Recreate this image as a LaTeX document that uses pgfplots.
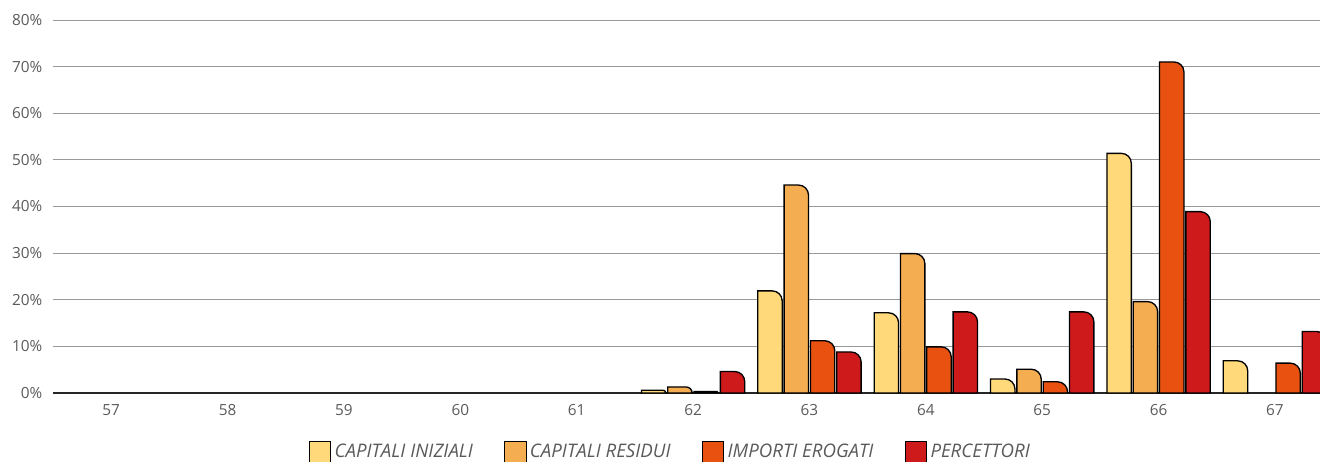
\documentclass[border=0pt]{standalone}
\usepackage{fontspec}
\setmainfont{Open Sans}
\newfontfamily\legfont{Open Sans}
\usepackage{pgfplots}
\pgfplotsset{compat=1.18}

\definecolor{ciCol}{HTML}{FFD97A}
\definecolor{crCol}{HTML}{F5AD52}
\definecolor{ieCol}{HTML}{E85110}
\definecolor{peCol}{HTML}{CF1A1C}
\definecolor{tickgray}{HTML}{5A5A5A}

% bar outline with only the top right corner rounded
\newdimen\rbxa \newdimen\rbya \newdimen\rbxb \newdimen\rbyb
\newdimen\rbr \newdimen\rbt
\makeatletter
\def\rbdraw{%
  \ifdim\rbxb<\rbxa \rbt=\rbxa \rbxa=\rbxb \rbxb=\rbt \fi
  \ifdim\rbyb<\rbya \rbt=\rbya \rbya=\rbyb \rbyb=\rbt \fi
  \rbr=7.5pt
  \rbt=\rbyb \advance\rbt by-\rbya
  \ifdim\rbt<\rbr \rbr=\rbt \fi
  \rbt=\rbxb \advance\rbt by-\rbxa
  \ifdim\rbt<\rbr \rbr=\rbt \fi
  \pgfpathmoveto{\pgfqpoint{\rbxa}{\rbya}}%
  \pgfpathlineto{\pgfqpoint{\rbxa}{\rbyb}}%
  \pgfpathlineto{\pgfqpoint{\dimexpr\rbxb-\rbr\relax}{\rbyb}}%
  \pgfpathcurveto
    {\pgfqpoint{\dimexpr\rbxb-0.4477\rbr\relax}{\rbyb}}%
    {\pgfqpoint{\rbxb}{\dimexpr\rbyb-0.4477\rbr\relax}}%
    {\pgfqpoint{\rbxb}{\dimexpr\rbyb-\rbr\relax}}%
  \pgfpathlineto{\pgfqpoint{\rbxb}{\rbya}}%
  \pgfpathclose
}
\def\rbrect#1#2{%
  \pgf@process{#1}\rbxa=\pgf@x \rbya=\pgf@y
  \pgf@process{#2}\rbxb=\rbxa \advance\rbxb by\pgf@x
  \rbyb=\rbya \advance\rbyb by\pgf@y
  \rbdraw}
\def\rbrectcorners#1#2{%
  \pgf@process{#1}\rbxa=\pgf@x \rbya=\pgf@y
  \pgf@process{#2}\rbxb=\pgf@x \rbyb=\pgf@y
  \rbdraw}
\makeatother

\pgfplotsset{
  roundbar/.style={ybar, bar width=18.3pt, draw=black, line width=1pt,
    forget plot,
    /utils/exec={\let\pgfpathrectangle\rbrect
                 \let\pgfpathrectanglecorners\rbrectcorners}},
}

\begin{document}
\begin{tikzpicture}
\useasboundingbox (0,0) rectangle (990pt,345.75pt);
\begin{axis}[
  at={(39.75pt,51pt)}, anchor=south west,
  scale only axis, width=950.25pt, height=279.75pt,
  xmin=56.5, xmax=67.387, ymin=0, ymax=80,
  xtick={57,58,...,67}, ytick={0,10,...,80},
  yticklabel={\pgfmathprintnumber{\tick}\%},
  /pgf/number format/assume math mode=true,
  axis x line*=bottom, axis y line*=left,
  y axis line style={draw=none},
  x axis line style={draw=black!85, line width=1pt, -},
  major tick length=0pt,
  ymajorgrids, grid style={draw=black!40, line width=0.75pt},
  tick label style={font=\fontsize{11.5}{13}\selectfont, text=tickgray},
  yticklabel style={xshift=-4.5pt},
  xticklabel style={yshift=-5pt},
  legend columns=4,
  legend style={draw=none, fill=none, at={(0.4878,0)}, anchor=center,
    yshift=-44pt, inner sep=0pt,
    font=\legfont\itshape\fontsize{14}{16}\selectfont, text=tickgray,
    nodes={inner xsep=2.5pt, inner ysep=0pt},
    /tikz/every even column/.append style={column sep=21pt}},
  legend image code/.code={\draw[#1, line width=0.75pt] (0pt,-8pt) rectangle (16pt,8pt);},
]
% capitali iniziali
\addplot[roundbar, fill=ciCol, bar shift=-29.6pt] coordinates {
  (62,0.6) (63,21.9) (64,17.2) (65,3.0) (66,51.4) (67,6.9)
};
% capitali residui
\addplot[roundbar, fill=crCol, bar shift=-9.87pt] coordinates {
  (62,1.3) (63,44.6) (64,29.9) (65,5.1) (66,19.6)
};
% importi erogati
\addplot[roundbar, fill=ieCol, bar shift=9.87pt] coordinates {
  (62,0.3) (63,11.2) (64,9.9) (65,2.4) (66,71.0) (67,6.4)
};
% percettori
\addplot[roundbar, fill=peCol, bar shift=29.6pt] coordinates {
  (62,4.6) (63,8.8) (64,17.4) (65,17.4) (66,38.9) (67,13.2)
};
\addlegendimage{fill=ciCol, draw=black}
\addlegendimage{fill=crCol, draw=black}
\addlegendimage{fill=ieCol, draw=black}
\addlegendimage{fill=peCol, draw=black}
\legend{CAPITALI INIZIALI, CAPITALI RESIDUI, IMPORTI EROGATI, PERCETTORI}
\end{axis}
\end{tikzpicture}
\end{document}
